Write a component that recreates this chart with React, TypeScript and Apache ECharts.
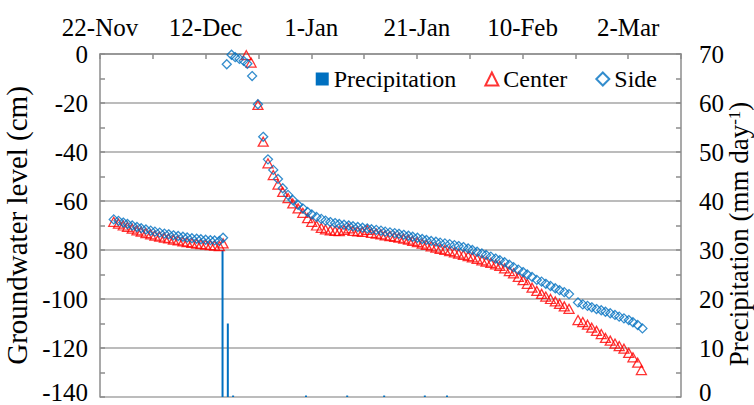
import React, { useEffect, useRef } from "react";
import * as echarts from "echarts";

// X axis: days after 22-Nov (0..110), labels every 20 days
const xTickLabels = ["22-Nov", "12-Dec", "1-Jan", "21-Jan", "10-Feb", "2-Mar"];

// Precipitation (mm day-1)
const precipDays = [23.2, 24.2, 25.2, 39.0, 46.8, 53.8, 61.5, 65.7];
const precipValues = [30, 15, 0.3, 0.3, 0.3, 0.3, 0.3, 0.3];

// Side groundwater level (cm)
const sideDays = [
  2.6, 3.5, 4.4, 5.2, 6.1, 7.0, 7.8, 8.7, 9.6, 10.4, 11.3, 12.2, 13.0, 13.9, 14.8, 15.7, 16.5, 17.4, 18.3, 19.1, 20.0, 20.9, 21.7, 22.6, 23.3,
  24.0, 24.9, 25.6, 26.4, 27.2, 27.9, 28.8, 29.9, 30.9, 31.8, 32.8, 33.7, 34.6, 35.6, 36.5, 37.5, 38.4,
  39.3, 40.1, 41.0, 41.9, 42.7, 43.6, 44.5, 45.3, 46.2, 47.1, 47.9, 48.8, 49.7, 50.6, 51.4, 52.3, 53.2, 54.0, 54.9, 55.8, 56.6, 57.5, 58.4, 59.2,
  60.1, 61.0, 61.8, 62.7, 63.6, 64.4, 65.3, 66.2, 67.1, 67.9, 68.8, 69.7, 70.5, 71.4, 72.3, 73.1, 74.0, 74.9, 75.7, 76.6, 77.5, 78.3, 79.2,
  80.1, 80.9, 81.8, 82.7, 83.6, 84.4, 85.3, 86.2, 87.0, 87.9, 88.8,
  90.5, 91.4, 92.3, 93.1, 94.0, 94.9, 95.7, 96.6, 97.5, 98.3, 99.2, 100.1, 100.9, 101.8, 102.7,
];
const sideLevels = [
  -67.5, -68.1, -68.8, -69.4, -70, -70.6, -71.1, -71.6, -72.1, -72.5, -72.9, -73.3, -73.6, -74, -74.3, -74.6, -74.9, -75.2, -75.4, -75.6, -75.8, -76, -76.1, -76.3, -75,
  -4.2, -0.3, -1.3, -2, -2.8, -4, -9, -20.5, -33.8, -43, -47.3, -51, -54.8, -57.5, -59.6, -61.6, -63,
  -64.5, -65.5, -66.5, -67.3, -68, -68.6, -69, -69.4, -69.7, -70, -70.3, -70.6, -70.9, -71.2, -71.5, -71.8, -72.1, -72.5, -72.8, -73.1, -73.4, -73.8, -74.2, -74.6,
  -75, -75.5, -75.9, -76.3, -76.6, -77, -77.3, -77.6, -78, -78.4, -78.8, -79.4, -80, -80.7, -81.4, -82, -82.7, -83.5, -84.2, -85, -86, -87, -88,
  -89, -90, -91, -92.2, -92.9, -93.8, -94.7, -95.6, -96.4, -97.2, -98,
  -101.4, -102.2, -102.8, -103.4, -104.1, -104.6, -105.2, -105.8, -106.5, -107.2, -107.9, -108.6, -109.5, -110.6, -112,
];

// Center groundwater level (cm)
const centerDays = [
  2.6, 3.5, 4.4, 5.2, 6.1, 7.0, 7.8, 8.7, 9.6, 10.4, 11.3, 12.2, 13.0, 13.9, 14.8, 15.7, 16.5, 17.4, 18.3, 19.1, 20.0, 20.9, 21.7, 22.6, 23.3,
  27.7, 28.6, 29.9, 30.9, 31.8, 32.8, 33.7, 34.6, 35.6, 36.5, 37.5, 38.4,
  39.3, 40.1, 41.0, 41.9, 42.7, 43.6, 44.5, 45.3, 46.2, 47.1, 47.9, 48.8, 49.7, 50.6, 51.4, 52.3, 53.2, 54.0, 54.9, 55.8, 56.6, 57.5, 58.4, 59.2,
  60.1, 61.0, 61.8, 62.7, 63.6, 64.4, 65.3, 66.2, 67.1, 67.9, 68.8, 69.7, 70.5, 71.4, 72.3, 73.1, 74.0, 74.9, 75.7, 76.6, 77.5, 78.3, 79.2,
  80.1, 80.9, 81.8, 82.7, 83.6, 84.4, 85.3, 86.2, 87.0, 87.9, 88.8,
  90.5, 91.4, 92.3, 93.1, 94.0, 94.9, 95.7, 96.6, 97.5, 98.3, 99.2, 100.1, 100.9, 101.8, 102.5,
];
const centerLevels = [
  -68.5, -69.2, -70, -70.6, -71.3, -72, -72.5, -73.1, -73.6, -74.1, -74.5, -75, -75.3, -75.8, -76.1, -76.5, -76.8, -77.1, -77.4, -77.6, -77.8, -78, -78.2, -78.4, -77.3,
  -0.5, -3.5, -20.8, -35.8, -44.6, -49.4, -53.3, -56.3, -58.8, -61, -63, -64.8,
  -67, -68.5, -70, -71, -71.6, -72, -72.2, -72.3, -71.8, -71.2, -72.2, -72.4, -72.6, -71.8, -73, -73.3, -73.6, -74, -74.3, -74.6, -75, -75.4, -75.8, -76.3,
  -76.8, -77.4, -77.9, -78.5, -79, -79.5, -80, -80.5, -81, -81.5, -82, -82.5, -83, -83.6, -84.2, -84.7, -85.3, -85.9, -86.5, -87.5, -88.6, -89.5, -91,
  -92.3, -93.8, -95.4, -96.7, -97.9, -99, -100, -101, -102, -103, -104,
  -108.6, -109.4, -110.5, -111.7, -113, -114.3, -115.9, -117, -118.2, -119.2, -120.3, -122, -123.8, -126, -129,
];

const FONT = "Liberation Serif";
const AXIS_GRAY = "#8c8c8c";
const GRID_GRAY = "#a6a6a6";
const BLUE = "#0070C0";
const RED = "#FF0000";
const W = 754;
const H = 405;

export default function App() {
  const ref = useRef<HTMLDivElement>(null);

  useEffect(() => {
    document.body.style.margin = "0";
    document.documentElement.style.overflow = "hidden";
    document.body.style.overflow = "hidden";
    if (!ref.current) return;
    const chart = echarts.init(ref.current, undefined, { renderer: "svg", width: W, height: H });

    const tickStyle = { color: AXIS_GRAY, width: 1.5 };
    const lowRich = { low: { fontFamily: FONT, fontSize: 25, color: "#000", padding: [0, 0, 10, 0] } };

    chart.setOption({
      animation: false,
      backgroundColor: "#ffffff",
      textStyle: { fontFamily: FONT },
      grid: {
        left: 100,
        right: 73,
        top: 54,
        bottom: 8,
        containLabel: false,
        outerBoundsMode: "none",
      },
      legend: {
        right: 92,
        top: 62,
        itemWidth: 13,
        itemHeight: 13,
        itemGap: 28,
        textStyle: { fontFamily: FONT, fontSize: 24, color: "#000" },
        data: [
          { name: "Precipitation", icon: "rect" },
          { name: "Center" },
          { name: "Side" },
        ],
      },
      graphic: [
        {
          type: "text",
          x: 739,
          y: 234,
          rotation: Math.PI / 2,
          style: {
            text: "Precipitation (mm day{sup|-1})",
            fontFamily: FONT,
            fontSize: 27,
            fill: "#000",
            align: "center",
            verticalAlign: "middle",
            rich: {
              sup: { fontFamily: FONT, fontSize: 17, fill: "#000", verticalAlign: "top" },
            },
          },
        },
      ],
      xAxis: {
        type: "value",
        position: "top",
        min: 0,
        max: 110,
        interval: 10,
        axisLine: { show: true, lineStyle: tickStyle },
        axisTick: { show: true, inside: true, length: 5, lineStyle: tickStyle },
        axisLabel: {
          fontFamily: FONT,
          fontSize: 25,
          color: "#000",
          margin: 14,
          formatter: (v: number) => {
            if (v % 20 !== 0) return "";
            const l = xTickLabels[v / 20];
            return l ?? "";
          },
        },
        splitLine: { show: false },
      },
      yAxis: [
        {
          type: "value",
          position: "left",
          min: -140,
          max: 0,
          interval: 20,
          name: "Groundwater level (cm)",
          nameLocation: "middle",
          nameGap: 68,
          nameTextStyle: { fontFamily: FONT, fontSize: 29, color: "#000" },
          axisLine: { show: true, lineStyle: tickStyle },
          axisTick: { show: true, inside: true, length: 5, lineStyle: tickStyle },
          minorTick: { show: true, splitNumber: 2, length: 5, lineStyle: tickStyle },
          axisLabel: {
            fontFamily: FONT,
            fontSize: 25,
            color: "#000",
            margin: 12,
            rich: lowRich,
            formatter: (v: number) => (v === -140 ? `{low|${v}}` : `${v}`),
          },
          splitLine: { show: true, lineStyle: { color: GRID_GRAY, width: 1.5 } },
        },
        {
          type: "value",
          position: "right",
          min: 0,
          max: 70,
          interval: 10,
          axisLine: { show: true, lineStyle: tickStyle },
          axisTick: { show: true, inside: true, length: 5, lineStyle: tickStyle },
          minorTick: { show: true, splitNumber: 2, length: 5, lineStyle: tickStyle },
          axisLabel: {
            fontFamily: FONT,
            fontSize: 25,
            color: "#000",
            margin: 18,
            rich: lowRich,
            formatter: (v: number) => (v === 0 ? `{low|${v}}` : `${v}`),
          },
          splitLine: { show: false },
        },
      ],
      series: [
        {
          name: "Precipitation",
          type: "bar",
          xAxisIndex: 0,
          yAxisIndex: 1,
          barWidth: 2,
          itemStyle: { color: BLUE },
          data: precipDays.map((d, i) => [d, precipValues[i]]),
        },
        {
          name: "Center",
          type: "scatter",
          xAxisIndex: 0,
          yAxisIndex: 0,
          symbol: "triangle",
          symbolSize: [10, 9],
          itemStyle: { color: "rgba(255,255,255,0)", borderColor: RED, borderWidth: 1.3 },
          data: centerDays.map((d, i) => [d, centerLevels[i]]),
        },
        {
          name: "Side",
          type: "scatter",
          xAxisIndex: 0,
          yAxisIndex: 0,
          symbol: "diamond",
          symbolSize: 9,
          itemStyle: { color: "rgba(255,255,255,0)", borderColor: BLUE, borderWidth: 1.3 },
          data: sideDays.map((d, i) => [d, sideLevels[i]]),
        },
      ],
    });

    return () => chart.dispose();
  }, []);

  return (
    <div
      ref={ref}
      style={{ position: "fixed", left: 0, top: 0, width: W, height: H, overflow: "hidden" }}
    />
  );
}
